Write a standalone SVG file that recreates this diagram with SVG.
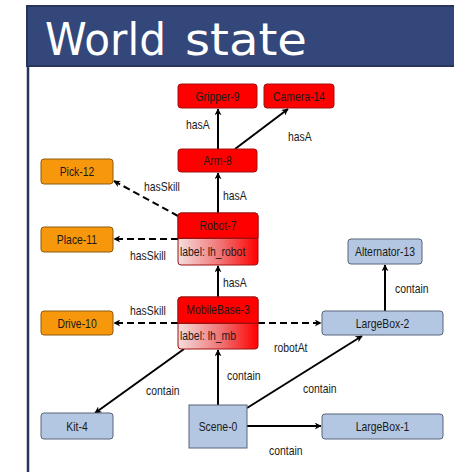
<svg xmlns="http://www.w3.org/2000/svg" width="454" height="472" viewBox="0 0 454 472">
  <defs>
    <marker id="arrow" viewBox="0 0 10 10" refX="9" refY="5" markerWidth="7" markerHeight="7" orient="auto" markerUnits="userSpaceOnUse">
      <path d="M0,0 L10,5 L0,10 L3,5 Z" fill="#000"/>
    </marker>
    <linearGradient id="labelGrad" x1="0" y1="0" x2="1" y2="0">
      <stop offset="0" stop-color="#f4dede"/>
      <stop offset="0.55" stop-color="#f07070"/>
      <stop offset="1" stop-color="#ff0000"/>
    </linearGradient>
    <style>
      .red { fill: #ff0000; stroke: #a01010; stroke-width: 1; }
      .org { fill: #f7980c; stroke: #8a5a10; stroke-width: 1; }
      .blu { fill: #b4c7e2; stroke: #56647a; stroke-width: 1; }
      .lbl { fill: url(#labelGrad); stroke: #a01010; stroke-width: 1; }
      .t { font-family: "Liberation Sans Narrow", "Liberation Sans", sans-serif; font-size: 13px; fill: #1a1a1a;
           transform-box: fill-box; transform-origin: left center; transform: scaleX(0.8); }
      .tc { text-anchor: middle; transform-origin: center center; }
      .e { stroke: #000; stroke-width: 2; fill: none; marker-end: url(#arrow); }
      .d { stroke-dasharray: 7 4; }
      .title { font-family: "DejaVu Sans", sans-serif; font-size: 44px; fill: #fff; }
    </style>
  </defs>

  <rect width="454" height="472" fill="#fff"/>

  <!-- slide frame -->
  <g id="frame">
    <rect x="27" y="6" width="430" height="60" fill="#34477a" stroke="#27355c" stroke-width="2"/>
    <line x1="28" y1="66" x2="28" y2="472" stroke="#27355c" stroke-width="2.5"/>
    <text class="title" y="55"><tspan x="45" textLength="121" lengthAdjust="spacingAndGlyphs">World</tspan><tspan x="185" textLength="122" lengthAdjust="spacingAndGlyphs">state</tspan></text>
  </g>

  <!-- connectors -->
  <g id="edges">
    <line class="e" x1="218" y1="149" x2="218" y2="109"/>
    <line class="e" x1="235" y1="149" x2="288" y2="109"/>
    <line class="e" x1="218" y1="213" x2="218" y2="173"/>
    <line class="e d" x1="178" y1="216" x2="114" y2="181"/>
    <line class="e d" x1="178" y1="239" x2="114" y2="239"/>
    <line class="e" x1="218" y1="297" x2="218" y2="266"/>
    <line class="e d" x1="178" y1="323" x2="114" y2="323"/>
    <line class="e d" x1="258" y1="323" x2="321" y2="323"/>
    <line class="e" x1="218" y1="405" x2="218" y2="350"/>
    <line class="e" x1="184" y1="349" x2="95" y2="413"/>
    <line class="e" x1="247" y1="408" x2="362" y2="336"/>
    <line class="e" x1="247" y1="426" x2="321" y2="426"/>
    <line class="e" x1="385" y1="311" x2="385" y2="265"/>

    <text class="t" x="186" y="129">hasA</text>
    <text class="t" x="288" y="141">hasA</text>
    <text class="t" x="223" y="200">hasA</text>
    <text class="t" x="144" y="191">hasSkill</text>
    <text class="t" x="130" y="260">hasSkill</text>
    <text class="t" x="223" y="287">hasA</text>
    <text class="t" x="130" y="315">hasSkill</text>
    <text class="t" x="274" y="352">robotAt</text>
    <text class="t" x="227" y="380">contain</text>
    <text class="t" x="146" y="395">contain</text>
    <text class="t" x="303" y="393">contain</text>
    <text class="t" x="269" y="455">contain</text>
    <text class="t" x="395" y="293">contain</text>
  </g>

  <!-- nodes -->
  <g id="gripper-9">
    <rect class="red" x="178" y="84" width="79" height="24" rx="3"/>
    <text class="t tc" x="217.5" y="101">Gripper-9</text>
  </g>
  <g id="camera-14">
    <rect class="red" x="264" y="84" width="70" height="24" rx="3"/>
    <text class="t tc" x="299" y="101">Camera-14</text>
  </g>
  <g id="arm-8">
    <rect class="red" x="178" y="149" width="79" height="23" rx="3"/>
    <text class="t tc" x="217.5" y="165">Arm-8</text>
  </g>
  <g id="pick-12">
    <rect class="org" x="41" y="159" width="72" height="25" rx="3"/>
    <text class="t tc" x="77" y="176">Pick-12</text>
  </g>
  <g id="place-11">
    <rect class="org" x="41" y="227" width="72" height="25" rx="3"/>
    <text class="t tc" x="77" y="244">Place-11</text>
  </g>
  <g id="robot-7">
    <rect class="lbl" x="178" y="213" width="80" height="52" rx="3"/>
    <path class="red" d="M178,238 V216 a3,3 0 0 1 3,-3 H255 a3,3 0 0 1 3,3 V238 Z"/>
    <line x1="178" y1="238.5" x2="258" y2="238.5" stroke="#a01010"/>
    <text class="t tc" x="218" y="230">Robot-7</text>
    <text class="t" x="180" y="256">label: lh_robot</text>
  </g>
  <g id="mobilebase-3">
    <rect class="lbl" x="178" y="297" width="80" height="52" rx="3"/>
    <path class="red" d="M178,323 V300 a3,3 0 0 1 3,-3 H255 a3,3 0 0 1 3,3 V323 Z"/>
    <line x1="178" y1="323.5" x2="258" y2="323.5" stroke="#a01010"/>
    <text class="t tc" x="218" y="314">MobileBase-3</text>
    <text class="t" x="180" y="340">label: lh_mb</text>
  </g>
  <g id="drive-10">
    <rect class="org" x="41" y="311" width="72" height="24" rx="3"/>
    <text class="t tc" x="77" y="328">Drive-10</text>
  </g>
  <g id="kit-4">
    <rect class="blu" x="41" y="413" width="72" height="26" rx="3"/>
    <text class="t tc" x="77" y="431">Kit-4</text>
  </g>
  <g id="scene-0">
    <rect class="blu" x="189" y="405" width="58" height="43"/>
    <text class="t tc" x="218" y="431">Scene-0</text>
  </g>
  <g id="alternator-13">
    <rect class="blu" x="348" y="239" width="74" height="25" rx="3"/>
    <text class="t tc" x="385" y="256">Alternator-13</text>
  </g>
  <g id="largebox-2">
    <rect class="blu" x="322" y="311" width="121" height="24" rx="3"/>
    <text class="t tc" x="382.5" y="328">LargeBox-2</text>
  </g>
  <g id="largebox-1">
    <rect class="blu" x="322" y="414" width="121" height="25" rx="3"/>
    <text class="t tc" x="382.5" y="431">LargeBox-1</text>
  </g>
</svg>
